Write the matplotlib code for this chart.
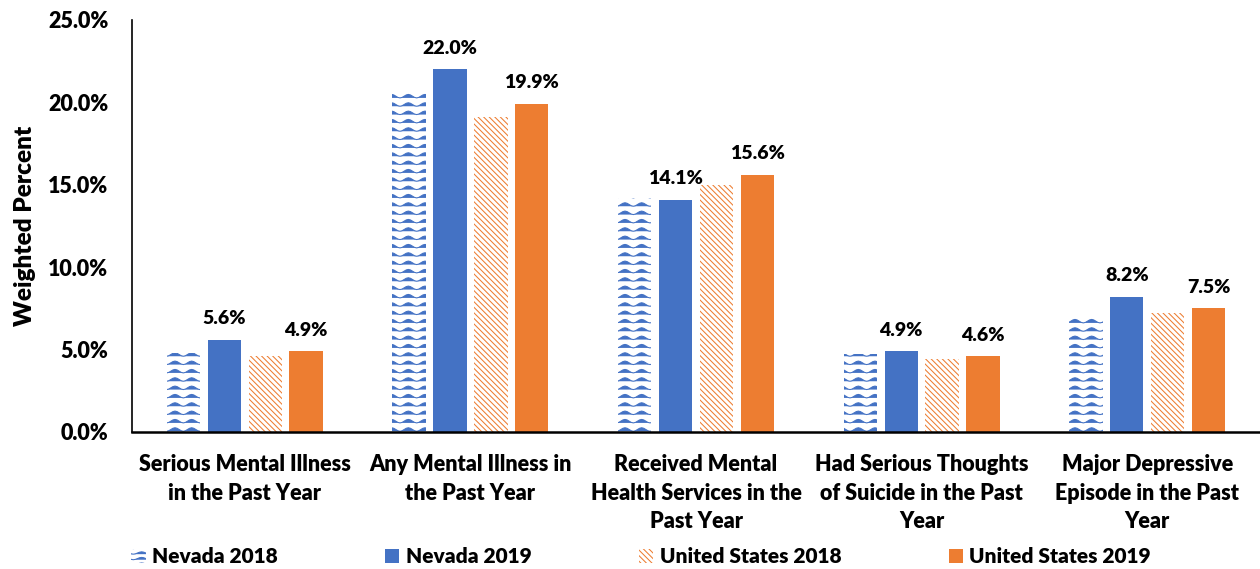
import warnings
import numpy as np
import matplotlib
matplotlib.use("Agg")
import matplotlib.pyplot as plt
import matplotlib.hatch as mhatch
from matplotlib.path import Path
from matplotlib.patches import Patch

warnings.filterwarnings("ignore")

# Data (weighted percent, adults)
categories = [
    "Serious Mental Illness\nin the Past Year",
    "Any Mental Illness in\nthe Past Year",
    "Received Mental\nHealth Services in the\nPast Year",
    "Had Serious Thoughts\nof Suicide in the Past\nYear",
    "Major Depressive\nEpisode in the Past\nYear",
]
nevada_2018 = [4.8, 20.7, 14.2, 4.7, 7.0]
nevada_2019 = [5.6, 22.0, 14.1, 4.9, 8.2]
us_2018 = [4.6, 19.1, 15.0, 4.4, 7.2]
us_2019 = [4.9, 19.9, 15.6, 4.6, 7.5]
series_names = ["Nevada 2018", "Nevada 2019", "United States 2018", "United States 2019"]
yticks = [0, 5, 10, 15, 20, 25]

BLUE = "#4472C4"
ORANGE = "#ED7D31"


# Wavy hatch pattern ("~"), not built into matplotlib
class WaveHatch(mhatch.HatchPatternBase):
    periods = 6
    per_period = 8

    def __init__(self, hatch, density):
        self.rows = int(hatch.count("~") * density)
        self.pts = self.periods * self.per_period + 1
        self.num_vertices = self.rows * self.pts

    def set_vertices_and_codes(self, vertices, codes):
        if self.rows == 0:
            return
        step = 1.0 / self.rows
        xs = np.linspace(0, 1, self.pts)
        wave = (1 - np.cos(2 * np.pi * self.periods * xs)) / 2 * step * 0.42
        for r in range(self.rows):
            base = r * step + step * 0.25
            sl = slice(r * self.pts, (r + 1) * self.pts)
            vertices[sl, 0] = xs
            vertices[sl, 1] = base + wave
            codes[sl] = Path.LINETO
            codes[r * self.pts] = Path.MOVETO


mhatch._hatch_types.append(WaveHatch)

plt.rcParams["font.family"] = ["Lato", "DejaVu Sans"]
plt.rcParams["font.weight"] = "heavy"
plt.rcParams["hatch.linewidth"] = 0.75

fig = plt.figure(figsize=(12.6, 5.69), dpi=100)
ax = fig.add_axes([0.1048, 0.241, 0.8952, 0.724])

x = np.arange(len(categories))
w = 0.148
offs = [-1.5, -0.5, 0.5, 1.5]
step = 0.181

ax.bar(x + offs[0] * step, nevada_2018, w, color="white", edgecolor=BLUE,
       linewidth=0, hatch="~~")
b19 = ax.bar(x + offs[1] * step, nevada_2019, w, color=BLUE)
ax.bar(x + offs[2] * step, us_2018, w, color="white", edgecolor=ORANGE,
       linewidth=0, hatch="\\\\\\\\\\\\")
u19 = ax.bar(x + offs[3] * step, us_2019, w, color=ORANGE)

# Value labels on the 2019 bars
for bars, vals in [(b19, nevada_2019), (u19, us_2019)]:
    for rect, v in zip(bars, vals):
        ax.annotate(f"{v:.1f}%", (rect.get_x() + rect.get_width() / 2, v),
                    xytext=(0, 9), textcoords="offset points",
                    ha="center", va="bottom", fontsize=14, fontweight="heavy")

ax.set_xlim(-0.5, 4.5)
ax.set_ylim(0, 25)
ax.set_yticks(yticks)
ax.set_yticklabels([f"{t:.1f}%" for t in yticks], fontsize=15.5, fontweight="heavy")
ax.set_xticks(x)
ax.set_xticklabels(categories, fontsize=15.5, fontweight="heavy", linespacing=1.45)
ax.tick_params(axis="both", length=0)
ax.tick_params(axis="x", pad=16)
ax.tick_params(axis="y", pad=17)
ax.set_ylabel("Weighted Percent", fontsize=17.5, fontweight="heavy", labelpad=9)

for s in ["top", "right"]:
    ax.spines[s].set_visible(False)
ax.spines["left"].set_linewidth(1.2)
ax.spines["bottom"].set_linewidth(1.8)

handles = [
    Patch(facecolor="white", edgecolor=BLUE, linewidth=0, hatch="~~~"),
    Patch(facecolor=BLUE),
    Patch(facecolor="white", edgecolor=ORANGE, linewidth=0, hatch="\\\\\\\\\\\\"),
    Patch(facecolor=ORANGE),
]
fig.legend(handles, series_names, loc="lower left", ncol=4, frameon=False,
           bbox_to_anchor=(131 / 1260, 0.005), borderpad=0,
           fontsize=15, handlelength=0.7, handleheight=0.7,
           handletextpad=0.3, columnspacing=5.15, borderaxespad=0)

fig.savefig("out.png", dpi=100)
